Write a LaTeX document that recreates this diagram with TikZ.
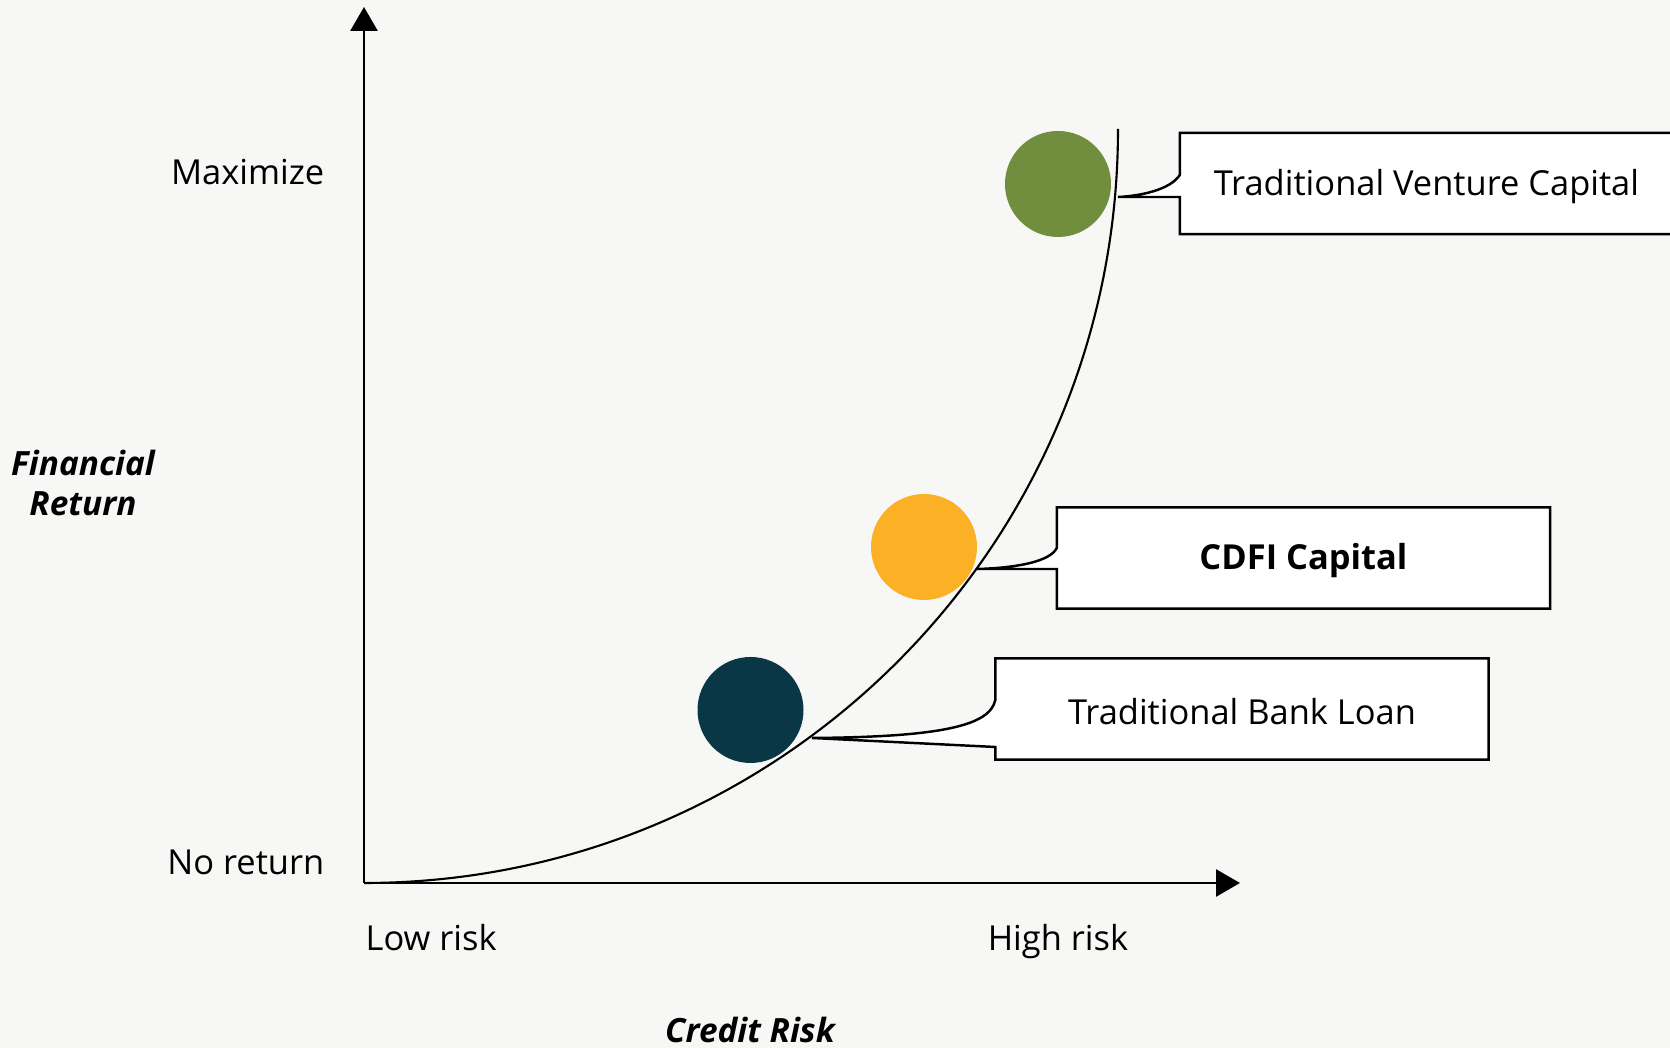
\documentclass[tikz,border=0pt]{standalone}
\usepackage{fontspec}
\setmainfont{Open Sans}
\usetikzlibrary{arrows.meta}

\definecolor{vcgreen}{RGB}{112,142,62}
\definecolor{cdfiorange}{RGB}{251,176,38}
\definecolor{banknavy}{RGB}{10,55,69}
\definecolor{paper}{RGB}{247,247,246}
\newcommand{\lblsize}{\fontsize{9.8}{11.5}\selectfont}
\newcommand{\ttlsize}{\fontsize{9.5}{11.4}\selectfont}

\begin{document}
\begin{tikzpicture}[font=\lblsize,
		lbl/.style={inner sep=0pt},
		dot/.style={circle,minimum size=1.06cm,inner sep=0pt},
		box/.style={minimum width=4.92cm,minimum height=1cm,inner sep=0pt},
		boxtext/.style={inner sep=0pt,yshift=-0.03cm},
		callout/.style={fill=white,draw=black,line width=0.7pt},
		axis/.style={line width=0.8pt,-{Triangle[length=0.24cm,width=0.27cm]}},
		ttl/.style={inner sep=0pt,font=\ttlsize\bfseries\itshape}]
			\fill[paper] (0,0) rectangle (16.7,10.48);
			\useasboundingbox (0,0) rectangle (16.7,10.48);

			%axes
			\coordinate (o) at (3.64,1.65);
			\coordinate (ytop) at (3.64,10.41);
			\coordinate (xend) at (12.40,1.65);
			\draw[axis] (o) -- (ytop);
			\draw[axis] (o) -- (xend);

			%curve
			\draw[line width=0.6pt] (o) arc[start angle=-90,end angle=0,radius=7.54];

			%axis labels
			\node [lbl,anchor=base east] (maxi) at (3.25,8.63) {Maximize};
			\node [lbl,anchor=base east] (noret) at (3.25,1.73) {No return};
			\node [lbl,anchor=base west] (low) at (3.65,0.97) {Low risk};
			\node [lbl,anchor=base] (high) at (10.58,0.97) {High risk};
			\node [ttl,align=center] (ret) at (0.83,5.65) {Financial\\Return};
			\node [ttl,anchor=base] (risk) at (7.50,0.05) {Credit Risk};

			%circles
			\node [dot,fill=vcgreen] (vcdot) at (10.58,8.64) {};
			\node [dot,fill=cdfiorange] (cdfidot) at (9.24,5.01) {};
			\node [dot,fill=banknavy] (bankdot) at (7.505,3.38) {};

			%callouts
			\node [box] (vc) at (14.265,8.645) {};
			\coordinate (vctip) at (11.18,8.51);
			\filldraw [callout] ([yshift=-0.135cm]vc.west) -- (vc.south west) -- (vc.south east) -- (vc.north east) -- (vc.north west) -- ([yshift=0.085cm]vc.west) .. controls (11.70,8.58) and (11.40,8.52) .. (vctip) -- cycle;
			\node [boxtext] at (vc) {Traditional Venture Capital};

			\node [box] (cdfi) at (13.035,4.90) {};
			\coordinate (cdfitip) at (9.77,4.79);
			\filldraw [callout] ([yshift=-0.11cm]cdfi.west) -- (cdfi.south west) -- (cdfi.south east) -- (cdfi.north east) -- (cdfi.north west) -- ([yshift=0.10cm]cdfi.west) .. controls (10.50,4.86) and (10.15,4.80) .. (cdfitip) -- cycle;
			\node [boxtext] at (cdfi) {\textbf{CDFI Capital}};

			\node [box] (bank) at (12.42,3.39) {};
			\coordinate (banktip) at (8.12,3.10);
			\filldraw [callout] ([yshift=-0.38cm]bank.west) -- (bank.south west) -- (bank.south east) -- (bank.north east) -- (bank.north west) -- ([yshift=0.09cm]bank.west) .. controls (9.90,3.22) and (9.40,3.11) .. (banktip) -- cycle;
			\node [boxtext] at (bank) {Traditional Bank Loan};
		\end{tikzpicture}
\end{document}
